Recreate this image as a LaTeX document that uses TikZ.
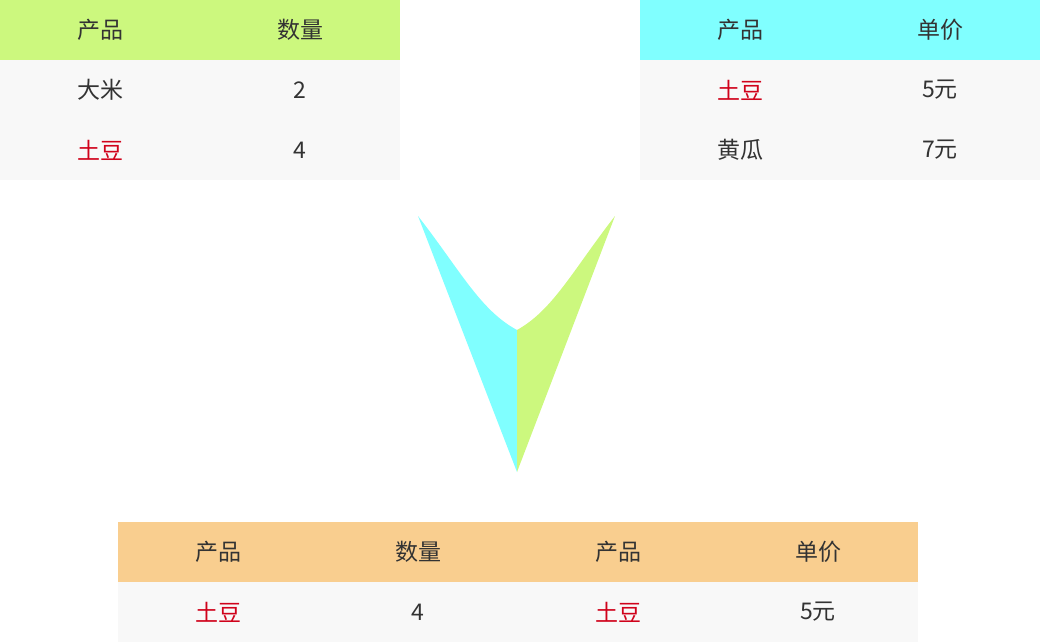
\documentclass[tikz,border=0pt]{standalone}
\usepackage{fontspec}
\setmainfont{Noto Sans CJK SC}
\definecolor{hgreen}{HTML}{CCF87E}
\definecolor{hcyan}{HTML}{80FFFF}
\definecolor{horange}{HTML}{F9CE8F}
\definecolor{rowbg}{HTML}{F8F8F8}
\definecolor{txt}{HTML}{333333}
\definecolor{redt}{HTML}{D0021B}
\begin{document}
\begin{tikzpicture}[x=1pt,y=-1pt,
  cell/.style={font=\fontsize{23}{28}\selectfont,text=txt,inner sep=0pt},
  hot/.style={cell,text=redt}]
\useasboundingbox (0,0) rectangle (1040,642);
% left table
\fill[hgreen] (0,0) rectangle (400,60);
\fill[rowbg] (0,60) rectangle (400,180);
\node[cell] (l11) at (100,30) {产品};
\node[cell] (l12) at (300,30) {数量};
\node[cell] (l21) at (100,90) {大米};
\node[cell] (l22) at (300,90) {2};
\node[hot] (l31) at (100,150) {土豆};
\node[cell] (l32) at (300,150) {4};
% right table
\fill[hcyan] (640,0) rectangle (1040,60);
\fill[rowbg] (640,60) rectangle (1040,180);
\node[cell] (r11) at (740,30) {产品};
\node[cell] (r12) at (940,30) {单价};
\node[hot] (r21) at (740,90) {土豆};
\node[cell] (r22) at (940,90) {5元};
\node[cell] (r31) at (740,150) {黄瓜};
\node[cell] (r32) at (940,150) {7元};
% arrow
\fill[hcyan] (418,216) .. controls (460,270) and (480,310) .. (517,330) -- (517,472) -- cycle;
\fill[hgreen] (615,216) .. controls (573,270) and (553,310) .. (517,330) -- (517,472) -- cycle;
% bottom table
\fill[horange] (118,522) rectangle (918,582);
\fill[rowbg] (118,582) rectangle (918,642);
\node[cell] (b11) at (218,552) {产品};
\node[cell] (b12) at (418,552) {数量};
\node[cell] (b13) at (618,552) {产品};
\node[cell] (b14) at (818,552) {单价};
\node[hot] (b21) at (218,612) {土豆};
\node[cell] (b22) at (418,612) {4};
\node[hot] (b23) at (618,612) {土豆};
\node[cell] (b24) at (818,612) {5元};
\end{tikzpicture}
\end{document}
